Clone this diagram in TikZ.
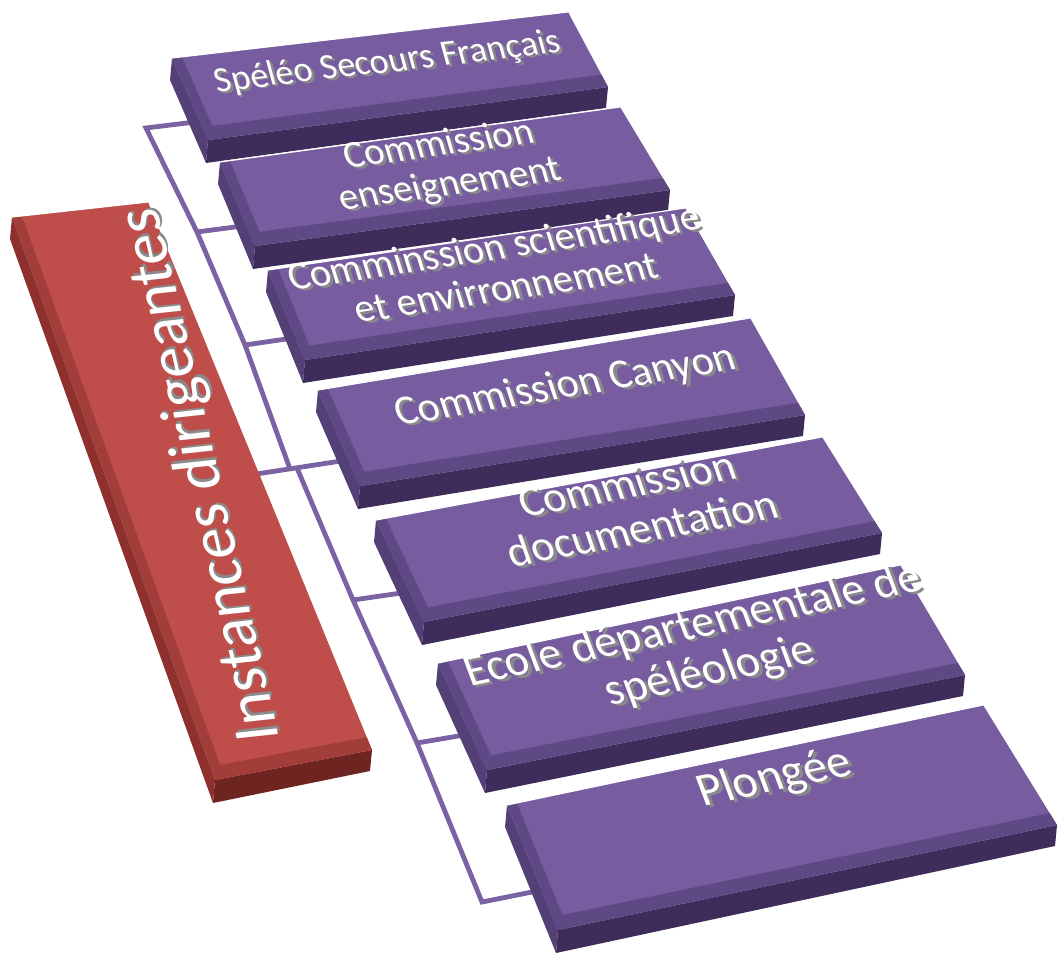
\documentclass[tikz,border=0pt]{standalone}
\usepackage{fontspec}
\setmainfont{Carlito}
\usetikzlibrary{calc, backgrounds}

\definecolor{purpletopcol}{HTML}{775DA0}
\definecolor{purplebevelcol}{HTML}{5F4984}
\definecolor{purplefrontcol}{HTML}{3E2D5A}
\definecolor{purplesidecol}{HTML}{534077}
\definecolor{redtopcol}{HTML}{BF4E4A}
\definecolor{redbevelcol}{HTML}{A13E3A}
\definecolor{redfrontcol}{HTML}{6E2421}
\definecolor{redsidecol}{HTML}{8E302D}
\definecolor{linkcol}{HTML}{7B62A3}
\definecolor{textshadow}{HTML}{8A8A8A}

% white text with a grey shadow
\newcommand{\sh}[1]{\rlap{\kern1.1pt\raisebox{-1.1pt}{\textcolor{textshadow}{#1}}}#1}

% one slab: name, corners of the top face (tl, tr, br, bl), colour set
\newcommand{\slab}[6]{%
  \coordinate (#1-tl) at #2;
  \coordinate (#1-tr) at #3;
  \coordinate (#1-br) at #4;
  \coordinate (#1-bl) at #5;
  \fill[#6side] (#1-tl) -- ($(#1-tl)+(-2,22)$) -- ($(#1-bl)+(-2,23)$) -- (#1-bl) -- cycle;
  \fill[#6front] (#1-bl) -- (#1-br) -- ($(#1-br)+(-2,21)$) -- ($(#1-bl)+(-2,23)$) -- cycle;
  \fill[#6top] (#1-tl) -- (#1-tr) -- (#1-br) -- (#1-bl) -- cycle;
  \fill[#6bevel] (#1-bl) -- (#1-br) -- ($(#1-br)!7pt!(#1-tr)$) -- ($(#1-bl)!7pt!(#1-tl)$) -- cycle;
  \fill[#6bevel] (#1-tl) -- ($(#1-tl)!5pt!(#1-tr)$) -- ($(#1-bl)!5pt!(#1-br)$) -- (#1-bl) -- cycle;
  \draw[white, line width=0.6pt] (#1-tl) -- (#1-tr);
}

\begin{document}
\begin{tikzpicture}[
    x=0.5pt, y=-0.5pt,
    purpletop/.style={fill=purpletopcol},
    purplebevel/.style={fill=purplebevelcol},
    purplefront/.style={fill=purplefrontcol},
    purpleside/.style={fill=purplesidecol},
    redtop/.style={fill=redtopcol},
    redbevel/.style={fill=redbevelcol},
    redfront/.style={fill=redfrontcol},
    redside/.style={fill=redsidecol},
    lab/.style={text=white, font=\fontsize{18}{19}\selectfont, align=center, inner sep=0pt},
    conn/.style={draw=linkcol, line width=2.4pt, line join=miter}
]

\useasboundingbox (0,0) rectangle (1058,956);

% Slabs
\slab{instbar}{(12,217)}{(148,202)}{(372,750)}{(215,780)}{red}
\slab{ssfbox}{(172,58)}{(568,12)}{(608,87)}{(208,140)}{purple}
\slab{ensbox}{(220,162)}{(620,107)}{(670,190)}{(255,246)}{purple}
\slab{scibox}{(268,270)}{(685,208)}{(735,295)}{(305,360)}{purple}
\slab{canyonbox}{(318,390)}{(750,318)}{(805,415)}{(360,486)}{purple}
\slab{docbox}{(376,520)}{(822,437)}{(882,533)}{(424,622)}{purple}
\slab{ecolebox}{(438,663)}{(900,565)}{(965,675)}{(487,770)}{purple}
\slab{plongeebox}{(507,805)}{(983,705)}{(1057,825)}{(558,930)}{purple}

% Labels
\node[lab, font=\fontsize{32}{34}\selectfont, rotate=103, xslant=0.12] (instances) at (203,475) {\sh{Instances dirigeantes}};
\node[lab, rotate=6.6, xslant=-0.15] (ssf) at (388,64) {\sh{Spéléo Secours Français}};
\node[lab, scale=1.07, rotate=7.8, xslant=-0.15] (ens) at (445,167) {\sh{Commission}\\\sh{enseignement}};
\node[lab, scale=1.11, rotate=8.5, xslant=-0.15] (sci) at (500,268) {\sh{Comminssion scientifique}\\\sh{et envirronnement}};
\node[lab, scale=1.167, rotate=9.5, xslant=-0.15] (canyon) at (566,388) {\sh{Commission Canyon}};
\node[lab, scale=1.22, rotate=10.5, xslant=-0.15] (doc) at (635,507) {\sh{Commission}\\\sh{documentation}};
\node[lab, scale=1.27, rotate=12, xslant=-0.15] (ecole) at (702,651) {\sh{Ecole départementale de}\\\sh{spéléologie}};
\node[lab, scale=1.32, rotate=12, xslant=-0.15] (plongee) at (775,780) {\sh{Plongée}};

% Connector points
\coordinate (j1) at (146,128);
\coordinate (j2) at (197,232);
\coordinate (j3) at (245,345);
\coordinate (j4a) at (290,469);
\coordinate (j4b) at (297,468);
\coordinate (j5) at (353,600);
\coordinate (j6) at (417,743);
\coordinate (j7) at (482,902);
\coordinate (ssf-in) at (203,121);
\coordinate (ens-in) at (250,225);
\coordinate (sci-in) at (300,337);
\coordinate (instances-out) at (250,475);
\coordinate (canyon-in) at (354,459);
\coordinate (doc-in) at (415,591);
\coordinate (ecole-in) at (476,733);
\coordinate (plongee-in) at (547,889);

\begin{scope}[on background layer]
    \draw[conn] (ssf-in) -- (j1) -- (j2) -- (j3) -- (j4a);
    \draw[conn] (j2) -- (ens-in);
    \draw[conn] (j3) -- (sci-in);
    \draw[conn] (instances-out) -- (canyon-in);
    \draw[conn] (j4b) -- (j5) -- (j6) -- (j7) -- (plongee-in);
    \draw[conn] (j5) -- (doc-in);
    \draw[conn] (j6) -- (ecole-in);
\end{scope}

\end{tikzpicture}
\end{document}
